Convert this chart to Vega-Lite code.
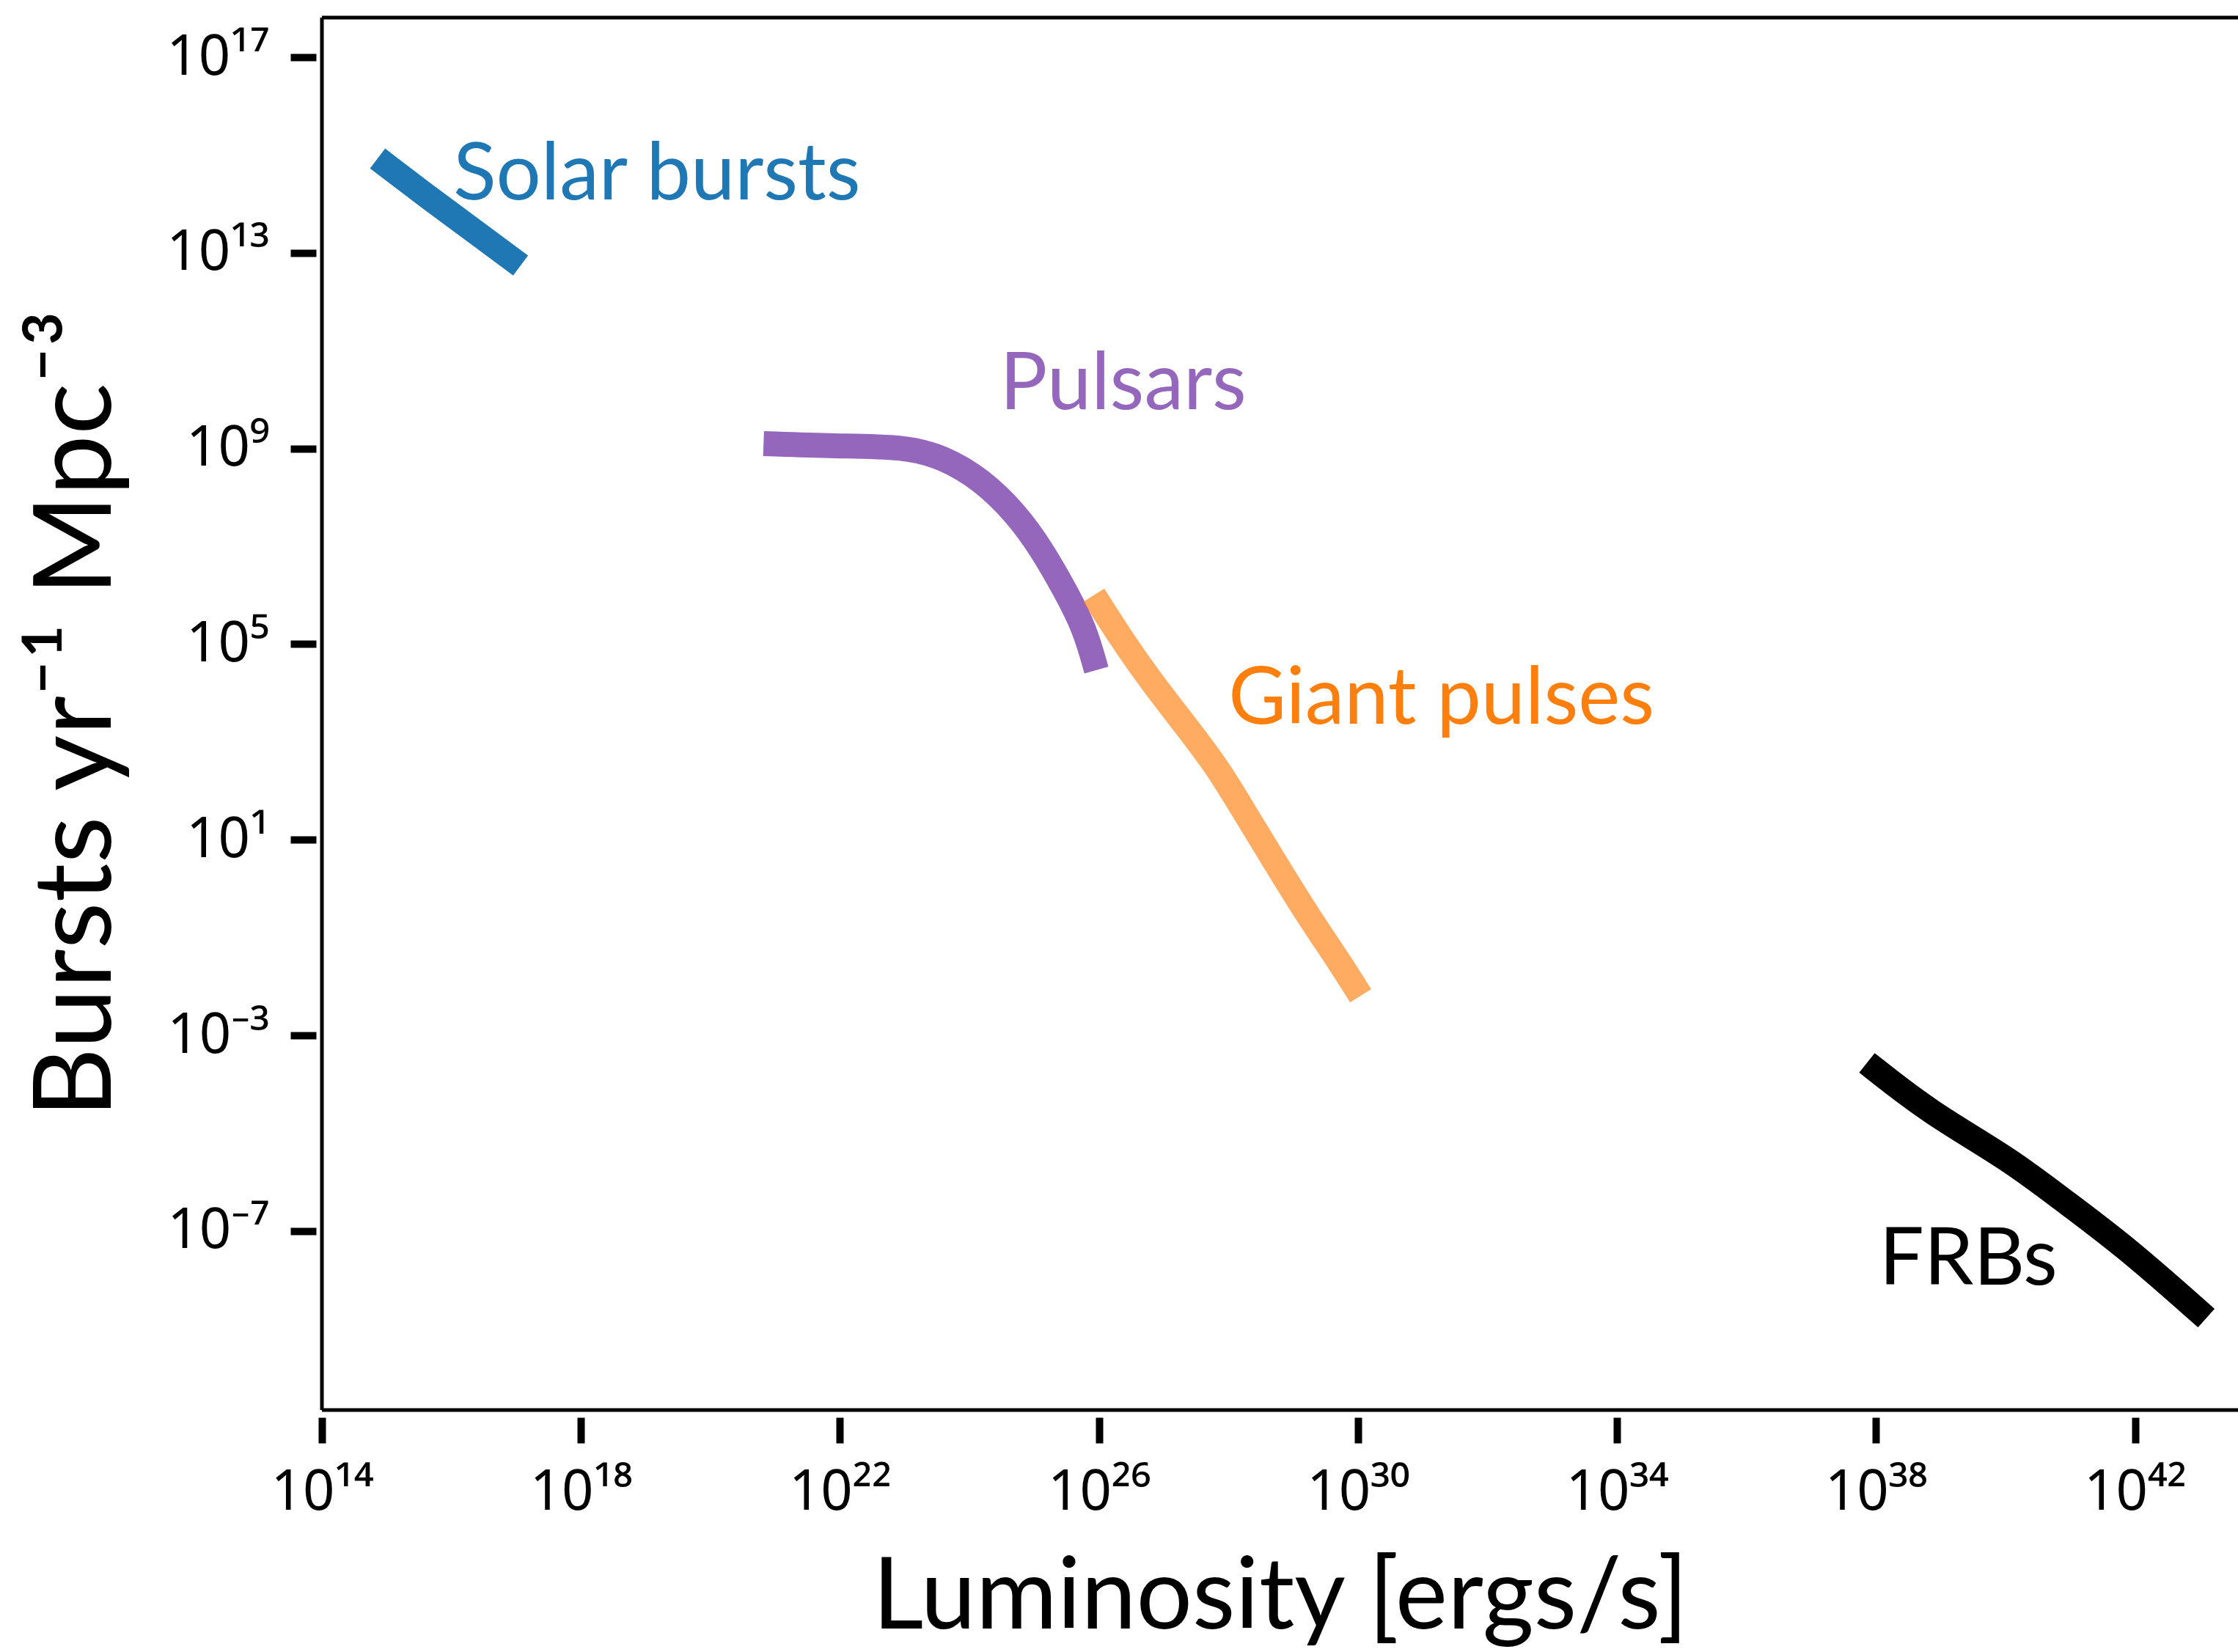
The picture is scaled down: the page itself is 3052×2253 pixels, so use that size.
{
  "$schema": "https://vega.github.io/schema/vega-lite/v6.json",
  "width": 2613,
  "height": 1899,
  "autosize": {"type": "none"},
  "padding": {"left": 439, "top": 24, "right": 0, "bottom": 330},
  "background": "white",
  "config": {
    "view": {"stroke": null},
    "font": "Lato, Noto Sans",
    "axis": {
      "domain": false,
      "grid": false,
      "tickColor": "black",
      "tickWidth": 10,
      "tickSize": 35,
      "labelColor": "black",
      "labelFont": "Noto Sans",
      "labelFontSize": 76,
      "titleColor": "black",
      "titleFont": "Lato, Noto Sans",
      "titleFontSize": 135,
      "titleFontWeight": "normal"
    }
  },
  "datasets": {
    "curves": [
      {"s": "Solar bursts", "i": 0, "L": 7.24e14, "R": 8.51e14},
      {"s": "Solar bursts", "i": 1, "L": 5.37e15, "R": 1.12e14},
      {"s": "Solar bursts", "i": 2, "L": 3.16e16, "R": 2.00e13},
      {"s": "Solar bursts", "i": 3, "L": 1.17e17, "R": 5.50e12},
      {"s": "Pulsars", "i": 0, "L": 6.61e20, "R": 1.26e9},
      {"s": "Pulsars", "i": 1, "L": 8.71e21, "R": 1.12e9},
      {"s": "Pulsars", "i": 2, "L": 9.55e22, "R": 1.10e9},
      {"s": "Pulsars", "i": 3, "L": 3.89e23, "R": 6.76e8},
      {"s": "Pulsars", "i": 4, "L": 1.55e24, "R": 2.29e8},
      {"s": "Pulsars", "i": 5, "L": 5.25e24, "R": 4.68e7},
      {"s": "Pulsars", "i": 6, "L": 1.32e25, "R": 8.51e6},
      {"s": "Pulsars", "i": 7, "L": 3.09e25, "R": 1.17e6},
      {"s": "Pulsars", "i": 8, "L": 6.03e25, "R": 2.09e5},
      {"s": "Pulsars", "i": 9, "L": 9.12e25, "R": 2.95e4},
      {"s": "Giant pulses", "i": 0, "L": 8.32e25, "R": 1.00e6},
      {"s": "Giant pulses", "i": 1, "L": 2.29e26, "R": 1.20e5},
      {"s": "Giant pulses", "i": 2, "L": 6.46e26, "R": 1.70e4},
      {"s": "Giant pulses", "i": 3, "L": 2.34e27, "R": 1.91e3},
      {"s": "Giant pulses", "i": 4, "L": 6.76e27, "R": 302},
      {"s": "Giant pulses", "i": 5, "L": 1.74e28, "R": 38.0},
      {"s": "Giant pulses", "i": 6, "L": 5.01e28, "R": 3.80},
      {"s": "Giant pulses", "i": 7, "L": 1.82e29, "R": 0.240},
      {"s": "Giant pulses", "i": 8, "L": 5.01e29, "R": 0.0339},
      {"s": "Giant pulses", "i": 9, "L": 1.10e30, "R": 0.00646},
      {"s": "FRBs", "i": 0, "L": 7.24e37, "R": 2.754e-4},
      {"s": "FRBs", "i": 1, "L": 6.61e38, "R": 2.69e-5},
      {"s": "FRBs", "i": 2, "L": 1.10e40, "R": 3.09e-6},
      {"s": "FRBs", "i": 3, "L": 8.91e40, "R": 3.72e-7},
      {"s": "FRBs", "i": 4, "L": 7.59e41, "R": 4.47e-8},
      {"s": "FRBs", "i": 5, "L": 1.26e43, "R": 1.66e-9}
    ],
    "labels": [
      {"s": "Solar bursts", "L": 1.07e16, "R": 1.23e14},
      {"s": "Pulsars", "L": 2.95e24, "R": 6.31e9},
      {"s": "Giant pulses", "L": 1.00e28, "R": 2.34e3},
      {"s": "FRBs", "L": 1.12e38, "R": 7.94e-9}
    ],
    "one": [{"k": 1}]
  },
  "layer": [
    {
      "data": {"name": "curves"},
      "transform": [{"filter": "datum.s === 'Solar bursts'"}],
      "mark": {"type": "line", "strokeWidth": 34, "strokeCap": "butt", "strokeJoin": "round", "interpolate": "basis"},
      "encoding": {
        "x": {
          "field": "L", "type": "quantitative",
          "scale": {"type": "log", "domain": [1e14, 3.89e43], "nice": false},
          "axis": {
            "values": [1e14, 1e18, 1e22, 1e26, 1e30, 1e34, 1e38, 1e42],
            "labelExpr": "['10¹⁴','10¹⁸','10²²','10²⁶','10³⁰','10³⁴','10³⁸','10⁴²'][round((log(datum.value)/LN10 - 14)/4)]",
            "offset": 10,
            "labelPadding": 30,
            "labelFlush": false,
            "labelOverlap": false,
            "title": "Luminosity [ergs/s]",
            "titlePadding": 40
          }
        },
        "y": {
          "field": "R", "type": "quantitative",
          "scale": {"type": "log", "domain": [2.19e-11, 6.46e17], "nice": false},
          "axis": {
            "values": [1e17, 1e13, 1e9, 1e5, 10, 1e-3, 1e-7],
            "labelExpr": "['10¹⁷','10¹³','10⁹','10⁵','10¹','10⁻³','10⁻⁷'][round((17 - log(datum.value)/LN10)/4)]",
            "offset": 8,
            "labelPadding": 29,
            "labelFlush": false,
            "labelOverlap": false,
            "title": "Bursts yr⁻¹ Mpc⁻³",
            "titleFontSize": 148,
            "titlePadding": 50
          }
        },
        "color": {
          "field": "s", "type": "nominal",
          "scale": {"domain": ["Solar bursts", "Pulsars", "Giant pulses", "FRBs"], "range": ["#1f77b4", "#9467bd", "#ff7f0e", "#000000"]},
          "legend": null
        },
        "order": {"field": "i"}
      }
    },
    {
      "data": {"name": "curves"},
      "transform": [{"filter": "datum.s === 'Pulsars'"}],
      "mark": {"type": "line", "strokeWidth": 34, "strokeCap": "butt", "strokeJoin": "round", "interpolate": "basis"},
      "encoding": {
        "x": {"field": "L", "type": "quantitative"},
        "y": {"field": "R", "type": "quantitative"},
        "color": {"field": "s", "type": "nominal", "legend": null},
        "order": {"field": "i"}
      }
    },
    {
      "data": {"name": "curves"},
      "transform": [{"filter": "datum.s === 'Giant pulses'"}],
      "mark": {"type": "line", "strokeWidth": 34, "strokeCap": "butt", "strokeJoin": "round", "interpolate": "basis", "strokeOpacity": 0.65},
      "encoding": {
        "x": {"field": "L", "type": "quantitative"},
        "y": {"field": "R", "type": "quantitative"},
        "color": {"field": "s", "type": "nominal", "legend": null},
        "order": {"field": "i"}
      }
    },
    {
      "data": {"name": "curves"},
      "transform": [{"filter": "datum.s === 'FRBs'"}],
      "mark": {"type": "line", "strokeWidth": 34, "strokeCap": "butt", "strokeJoin": "round", "interpolate": "basis"},
      "encoding": {
        "x": {"field": "L", "type": "quantitative"},
        "y": {"field": "R", "type": "quantitative"},
        "color": {"field": "s", "type": "nominal", "legend": null},
        "order": {"field": "i"}
      }
    },
    {
      "data": {"name": "labels"},
      "mark": {"type": "text", "align": "left", "baseline": "alphabetic", "fontSize": 108, "font": "Lato, Noto Sans"},
      "encoding": {
        "x": {"field": "L", "type": "quantitative"},
        "y": {"field": "R", "type": "quantitative"},
        "text": {"field": "s"},
        "color": {"field": "s", "type": "nominal", "legend": null}
      }
    },
    {
      "data": {"name": "one"},
      "mark": {"type": "rule", "strokeWidth": 5, "color": "black"},
      "encoding": {"x": {"datum": 1e14, "type": "quantitative"}}
    },
    {
      "data": {"name": "one"},
      "mark": {"type": "rule", "strokeWidth": 5, "color": "black"},
      "encoding": {"y": {"datum": 2.19e-11, "type": "quantitative"}}
    },
    {
      "data": {"name": "one"},
      "mark": {"type": "rule", "strokeWidth": 5, "color": "black"},
      "encoding": {"y": {"datum": 6.46e17, "type": "quantitative"}}
    }
  ]
}
